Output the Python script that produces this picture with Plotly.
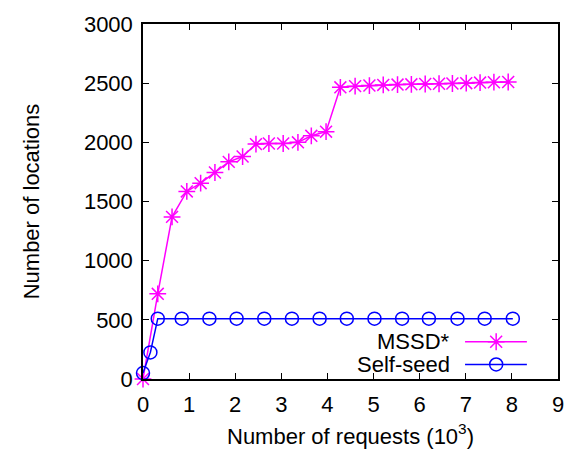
import plotly.graph_objects as go

# ---- data ----
mssd_x = [0, 0.32, 0.63, 0.95, 1.25, 1.56, 1.86, 2.16, 2.45, 2.73, 3.04, 3.36, 3.65,
          3.97, 4.28, 4.60, 4.91, 5.21, 5.52, 5.82, 6.12, 6.42, 6.71, 7.01, 7.31, 7.61, 7.92]
mssd_y = [0, 720, 1370, 1585, 1655, 1745, 1835, 1880, 1985, 1990, 1990, 2000, 2055,
          2090, 2465, 2475, 2480, 2485, 2488, 2490, 2493, 2495, 2497, 2500, 2505, 2508, 2510]

self_x = [0, 0.16, 0.32, 0.84, 1.44, 2.03, 2.63, 3.23, 3.83, 4.42, 5.02, 5.62, 6.20,
          6.82, 7.41, 8.02]
self_y = [50, 225, 510, 510, 510, 510, 510, 510, 510, 510, 510, 510, 510, 510, 510, 510]

series_names = ["MSSD*", "Self-seed"]
x_ticks = [0, 1, 2, 3, 4, 5, 6, 7, 8, 9]
y_ticks = [0, 500, 1000, 1500, 2000, 2500, 3000]

MAG = "#ff00ff"
BLUE = "#0000ff"
FONT = "Liberation Sans, Arial, Helvetica, sans-serif"
FS = 22

fig = go.Figure()
fig.add_trace(go.Scatter(
    x=mssd_x, y=mssd_y, mode="lines+markers", name=series_names[0],
    line=dict(color=MAG, width=1.5),
    marker=dict(symbol="asterisk-open", size=14, color=MAG, line=dict(color=MAG, width=1.5)),
    cliponaxis=False, showlegend=False))
fig.add_trace(go.Scatter(
    x=self_x, y=self_y, mode="lines+markers", name=series_names[1],
    line=dict(color=BLUE, width=1.5),
    marker=dict(symbol="circle-open", size=13, color=BLUE, line=dict(color=BLUE, width=1.5)),
    cliponaxis=False, showlegend=False))

# custom gnuplot-style key (text left, sample right) on an overlay 0..1 axis
key_rows = [0.105, 0.041]
key_colors = [MAG, BLUE]
key_symbols = ["asterisk-open", "circle-open"]
for name, ky, col, sym in zip(series_names, key_rows, key_colors, key_symbols):
    fig.add_trace(go.Scatter(
        x=[0.776, 0.925], y=[ky, ky], mode="lines", xaxis="x2", yaxis="y2",
        line=dict(color=col, width=1.5), showlegend=False, hoverinfo="skip"))
    fig.add_trace(go.Scatter(
        x=[0.851], y=[ky], mode="markers", xaxis="x2", yaxis="y2",
        marker=dict(symbol=sym, size=14 if sym.startswith("aster") else 13, color=col,
                    line=dict(color=col, width=1.5)),
        showlegend=False, hoverinfo="skip"))
    fig.add_annotation(x=0.745, y=ky, xref="x2", yref="y2", text=name, showarrow=False,
                       xanchor="right", yanchor="middle",
                       font=dict(family=FONT, size=FS, color="black"))

axis_common = dict(showline=True, linecolor="black", linewidth=1.5, mirror="ticks",
                   ticks="inside", ticklen=6, tickwidth=1.2, tickcolor="black",
                   showgrid=False, zeroline=False,
                   tickfont=dict(family=FONT, size=FS, color="black"))

fig.update_layout(
    width=579, height=457,
    margin=dict(l=143, r=21, t=16, b=77),
    paper_bgcolor="white", plot_bgcolor="white",
    xaxis=dict(range=[0, 9], tickvals=x_ticks, ticktext=[str(v) for v in x_ticks],
               ticklabelstandoff=5,
               title=dict(text="Number of requests (10<sup>3</sup>)",
                          font=dict(family=FONT, size=FS, color="black"), standoff=12),
               **axis_common),
    yaxis=dict(range=[0, 3000], tickvals=y_ticks, ticktext=[str(v) for v in y_ticks],
               ticklabelstandoff=4,
               title=dict(text="Number of locations",
                          font=dict(family=FONT, size=FS, color="black"), standoff=38),
               **axis_common),
    xaxis2=dict(range=[0, 1], overlaying="x", visible=False, fixedrange=True),
    yaxis2=dict(range=[0, 1], overlaying="y", visible=False, fixedrange=True),
    showlegend=False,
)

fig.write_html("out.html")
